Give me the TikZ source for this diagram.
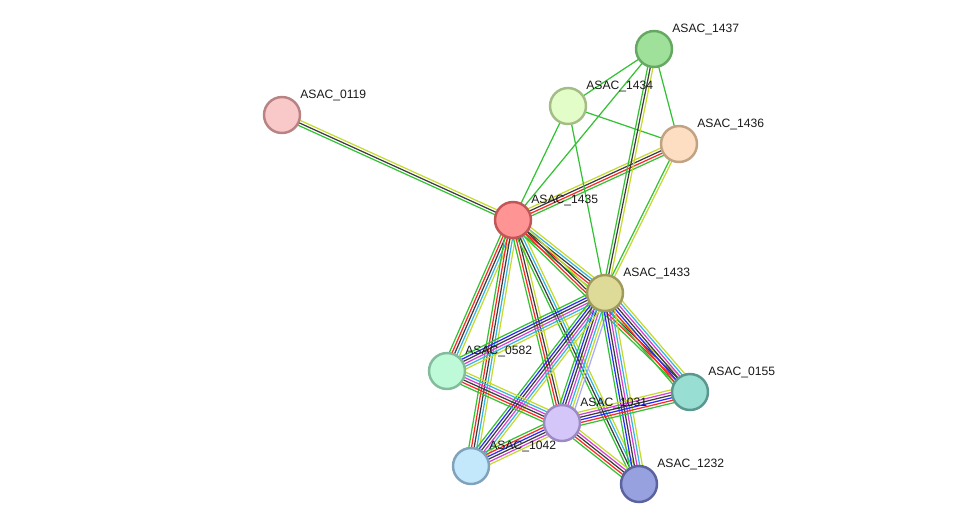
\documentclass[tikz,border=0pt]{standalone}
\usepackage{fontspec}
\setmainfont{Liberation Sans}
\usepackage{tikz}
\usetikzlibrary{calc,backgrounds}

\definecolor{sgreen}{HTML}{33C233}
\definecolor{sred}{HTML}{FF2626}
\definecolor{sblue}{HTML}{2A2AFF}
\definecolor{sblack}{HTML}{3C3C3C}
\definecolor{smagenta}{HTML}{D53FD5}
\definecolor{scyan}{HTML}{34B6E0}
\definecolor{syellow}{HTML}{C4DA2E}
\definecolor{slav}{HTML}{A8A8FF}

% parallel coloured lines between two nodes
\newcommand{\bundle}[3]{%
  \xdef\nb{0}\foreach \c in {#3}{\xdef\nb{\the\numexpr\nb+1}}%
  \foreach \c [count=\i] in {#3}{%
    \pgfmathsetmacro\off{(\i-(\nb+1)/2)*1.5}%
    \draw[\c, line width=.7pt] ($(#1)!\off pt!90:(#2)$) -- ($(#2)!\off pt!-90:(#1)$);
  }}

\tikzset{
  prot/.style 2 args={circle, minimum size=.72cm, inner sep=0pt, line width=1.4pt,
    /utils/exec={\definecolor{pfill}{HTML}{#1}\definecolor{pdraw}{HTML}{#2}},
    fill=pfill, draw=pdraw},
  lbl/.style={anchor=west, inner sep=0pt, text=black!90, font=\fontsize{6.9}{8}\selectfont}
}

\begin{document}
\begin{tikzpicture}[x=0.02cm, y=-0.02cm]
  \useasboundingbox (0,0) rectangle (976,529);
  % proteins
  \node[prot={F9C9C9}{B98383}] (n0119) at (282,115) {};
  \node[prot={FF9494}{C25656}] (n1435) at (513,220) {};
  \node[prot={9FE19A}{64A862}] (n1437) at (654,49) {};
  \node[prot={E2FDC8}{A4BC86}] (n1434) at (568,106) {};
  \node[prot={FDDEC2}{C1A283}] (n1436) at (679,144) {};
  \node[prot={DEDB98}{9E9B5C}] (n1433) at (605,293) {};
  \node[prot={BEFAD8}{82BC9D}] (n0582) at (447,371) {};
  \node[prot={98DED3}{5A978E}] (n0155) at (690,392) {};
  \node[prot={D5C6FA}{9C8AC2}] (n1031) at (562,423) {};
  \node[prot={C3E7FB}{80A3BB}] (n1042) at (471,466) {};
  \node[prot={98A1DF}{5A639E}] (n1232) at (639,484) {};
  % names
  \foreach \n in {0119,1435,1437,1434,1436,1433,0582,0155,1031,1042,1232}
    \node[lbl] (l\n) at ($(n\n)+(18,-20)$) {ASAC\_\n};
  % links
  \begin{pgfonlayer}{background}
    \bundle{n0119}{n1435}{sgreen,sblack,syellow}
    \bundle{n1435}{n1437}{sgreen}
    \bundle{n1435}{n1434}{sgreen}
    \bundle{n1435}{n1436}{sgreen,sred,sblack,syellow}
    \bundle{n1434}{n1437}{sgreen}
    \bundle{n1434}{n1436}{sgreen}
    \bundle{n1434}{n1433}{sgreen}
    \bundle{n1437}{n1436}{sgreen}
    \bundle{n1437}{n1433}{sgreen,sblack,syellow}
    \bundle{n1436}{n1433}{sgreen,syellow}
    \bundle{n1435}{n1433}{sgreen,sred,sblack,scyan,syellow}
    \bundle{n1435}{n0582}{sgreen,sred,sblack,scyan,syellow}
    \bundle{n1435}{n1042}{sgreen,sred,sblack,scyan,syellow}
    \bundle{n1435}{n1031}{sgreen,sred,sblack,syellow}
    \bundle{n1435}{n1232}{sgreen,sblack,scyan,syellow}
    \bundle{n1435}{n0155}{sgreen,sred,sblack,syellow}
    \bundle{n1433}{n0582}{sgreen,sblue,sblack,smagenta,scyan,syellow}
    \bundle{n1433}{n0155}{sgreen,sred,sblue,sblack,smagenta,scyan,syellow}
    \bundle{n1433}{n1031}{sgreen,sblue,sblack,smagenta,scyan,syellow,slav}
    \bundle{n1433}{n1042}{sgreen,sblue,sblack,smagenta,scyan,syellow}
    \bundle{n1433}{n1232}{sgreen,sblue,sblack,smagenta,scyan,syellow}
    \bundle{n0582}{n1031}{sgreen,sred,sblack,smagenta,scyan,syellow}
    \bundle{n1031}{n0155}{sgreen,sred,sblue,sblack,smagenta,syellow}
    \bundle{n1031}{n1042}{sgreen,sred,sblue,sblack,smagenta,syellow}
    \bundle{n1031}{n1232}{sgreen,sred,sblack,smagenta,syellow}
  \end{pgfonlayer}
\end{tikzpicture}
\end{document}
